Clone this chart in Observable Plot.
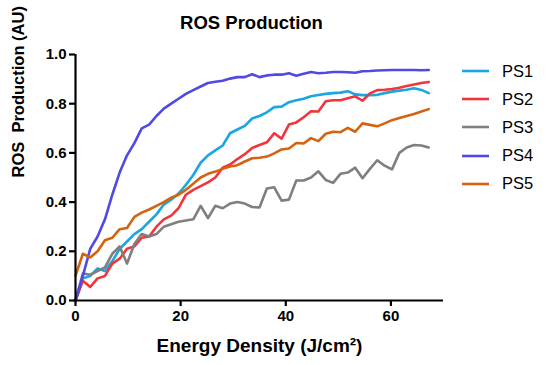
<!DOCTYPE html>
<html>
<head>
<meta charset="utf-8">
<script src="https://cdn.jsdelivr.net/npm/d3@7"></script>
<script src="https://cdn.jsdelivr.net/npm/@observablehq/plot@0.6"></script>
<style>
  html, body { margin: 0; padding: 0; background: #fff; }
  #wrap { position: relative; width: 550px; height: 365px; font-family: "Liberation Sans", Arial, Helvetica, sans-serif; }
  #legend { position: absolute; left: 462px; top: 57px; }
  .lg-row { display: flex; align-items: center; height: 28.2px; }
  .lg-row svg { margin-right: 13px; }
  .lg-row span { font-size: 16.5px; color: #000; }
</style>
</head>
<body>
<div id="wrap"><div id="legend"></div></div>
<script>
const titleText = "ROS Production";
const xLabel = "Energy Density (J/cm²)";
const yLabel = "ROS\u00A0 Production (AU)";
const xTicks = [0, 20, 40, 60];
const yTicks = [0, 0.2, 0.4, 0.6, 0.8, 1.0];

const seriesNames = ["PS1", "PS2", "PS3", "PS4", "PS5"];
const seriesColors = ["#1aa6e0", "#f2353b", "#7f7f7f", "#4e4ae3", "#d5620f"];

const energy = [0, 1.4, 2.8, 4.2, 5.6, 7.0, 8.4, 9.8, 11.2, 12.6, 14.0, 15.4, 16.8, 18.2, 19.6, 21.0, 22.4, 23.8, 25.2, 26.6,
  28.0, 29.4, 30.8, 32.2, 33.6, 35.0, 36.4, 37.8, 39.2, 40.6, 42.0, 43.4, 44.8, 46.2, 47.6, 49.0, 50.4, 51.8, 53.2, 54.6,
  56.0, 57.4, 58.8, 60.2, 61.6, 63.0, 64.4, 65.8, 67.2];

const ps1 = [0.0, 0.09, 0.10, 0.13, 0.12, 0.16, 0.21, 0.24, 0.27, 0.29, 0.32, 0.35, 0.39, 0.41, 0.435, 0.47, 0.51, 0.56, 0.59, 0.61,
  0.63, 0.68, 0.695, 0.71, 0.74, 0.75, 0.765, 0.786, 0.788, 0.806, 0.814, 0.82, 0.83, 0.835, 0.84, 0.843, 0.845, 0.851, 0.838, 0.835,
  0.835, 0.836, 0.843, 0.849, 0.853, 0.857, 0.863, 0.856, 0.843];
const ps2 = [0.0, 0.08, 0.055, 0.09, 0.10, 0.15, 0.17, 0.21, 0.22, 0.255, 0.26, 0.30, 0.33, 0.345, 0.375, 0.43, 0.45, 0.465, 0.48, 0.50,
  0.54, 0.553, 0.575, 0.595, 0.62, 0.632, 0.643, 0.68, 0.658, 0.715, 0.724, 0.745, 0.769, 0.768, 0.81, 0.814, 0.814, 0.822, 0.83, 0.812,
  0.842, 0.855, 0.857, 0.86, 0.865, 0.872, 0.878, 0.884, 0.888];
const ps3 = [0.0, 0.11, 0.105, 0.12, 0.135, 0.19, 0.22, 0.15, 0.23, 0.27, 0.26, 0.27, 0.30, 0.31, 0.32, 0.325, 0.33, 0.385, 0.335, 0.385,
  0.375, 0.394, 0.40, 0.394, 0.38, 0.378, 0.455, 0.46, 0.406, 0.41, 0.488, 0.488, 0.50, 0.525, 0.49, 0.478, 0.515, 0.52, 0.54, 0.497,
  0.535, 0.57, 0.548, 0.533, 0.60, 0.622, 0.632, 0.63, 0.622];
const ps4 = [0.0, 0.10, 0.21, 0.26, 0.33, 0.43, 0.52, 0.59, 0.64, 0.70, 0.715, 0.75, 0.78, 0.80, 0.82, 0.84, 0.855, 0.87, 0.884, 0.889,
  0.893, 0.902, 0.908, 0.908, 0.92, 0.908, 0.915, 0.918, 0.918, 0.924, 0.914, 0.922, 0.929, 0.924, 0.926, 0.929, 0.929, 0.928, 0.926, 0.932,
  0.933, 0.935, 0.936, 0.937, 0.937, 0.937, 0.937, 0.936, 0.937];
const ps5 = [0.10, 0.19, 0.175, 0.20, 0.245, 0.255, 0.29, 0.295, 0.34, 0.357, 0.37, 0.385, 0.40, 0.418, 0.43, 0.45, 0.475, 0.50, 0.515, 0.524,
  0.535, 0.545, 0.55, 0.565, 0.578, 0.58, 0.585, 0.598, 0.614, 0.618, 0.64, 0.638, 0.66, 0.648, 0.678, 0.686, 0.684, 0.702, 0.686, 0.72,
  0.714, 0.708, 0.72, 0.733, 0.742, 0.75, 0.758, 0.768, 0.778];

const seriesValues = [ps1, ps2, ps3, ps4, ps5];
const rows = seriesNames.flatMap((name, k) => energy.map((x, i) => ({x, y: seriesValues[k][i], series: name})));

const font = '"Liberation Sans", Arial, Helvetica, sans-serif';

const chart = Plot.plot({
  width: 550,
  height: 365,
  marginLeft: 75,
  marginRight: 107,
  marginTop: 54,
  marginBottom: 65,
  style: {fontFamily: font, background: "#fff", color: "#000"},
  x: {domain: [0, 70]},
  y: {domain: [0, 1]},
  color: {domain: seriesNames, range: seriesColors},
  marks: [
    Plot.line(rows, {x: "x", y: "y", z: "series", stroke: "series", strokeWidth: 2.6, strokeLinejoin: "round"}),
    Plot.ruleY([0], {stroke: "#000", strokeWidth: 2.2}),
    Plot.ruleX([0], {stroke: "#000", strokeWidth: 2.2}),
    Plot.axisX({ticks: xTicks, tickSize: 6, strokeWidth: 2.2, tickPadding: 4, tickFormat: d3.format("d"),
      fontSize: 15, fontWeight: "bold", label: null}),
    Plot.axisY({ticks: yTicks, tickSize: 6, strokeWidth: 2.2, tickPadding: 3, tickFormat: d3.format(".1f"),
      fontSize: 15, fontWeight: "bold", label: null}),
    Plot.text([xLabel], {frameAnchor: "bottom", dy: 51, fontSize: 19, fontWeight: "bold", fill: "#000"}),
    Plot.text([yLabel], {frameAnchor: "left", dx: -57, rotate: -90, fontSize: 16.5, fontWeight: "bold", fill: "#000"}),
    Plot.text([titleText], {frameAnchor: "top", dx: -8, dy: -39, fontSize: 18.5, fontWeight: "bold", fill: "#000"})
  ]
});

const wrap = document.getElementById("wrap");
wrap.insertBefore(chart, wrap.firstChild);

const legend = document.getElementById("legend");
seriesNames.forEach((name, k) => {
  const row = document.createElement("div");
  row.className = "lg-row";
  row.innerHTML = `<svg width="27" height="4"><line x1="0" x2="27" y1="2" y2="2" stroke="${seriesColors[k]}" stroke-width="2.6"/></svg><span>${name}</span>`;
  legend.appendChild(row);
});
</script>
</body>
</html>
